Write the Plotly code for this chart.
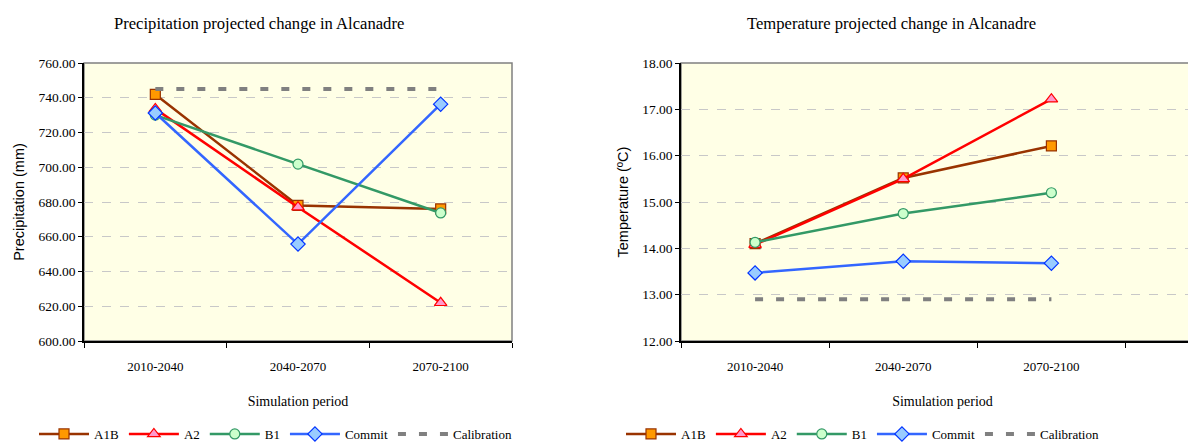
import plotly.graph_objects as go

# Simulation periods (x categories)
periods = ['2010-2040', '2040-2070', '2070-2100']

# Precipitation (mm)
precip_a1b = [741.9, 678.0, 676.0]
precip_a2 = [733.6, 677.0, 622.0]
precip_b1 = [730.0, 701.8, 673.7]
precip_commit = [731.2, 655.8, 736.3]
precip_calib = [745.0, 745.0, 745.0]

# Temperature (ºC)
temp_a1b = [14.10, 15.52, 16.21]
temp_a2 = [14.08, 15.50, 17.22]
temp_b1 = [14.13, 14.75, 15.20]
temp_commit = [13.47, 13.72, 13.68]
temp_calib = [12.90, 12.90, 12.90]

SERIF = 'Liberation Serif, Times New Roman, serif'
SANS = 'Liberation Sans, Arial, sans-serif'

styles = {
    'A1B': dict(line=dict(color='#993300', width=2.5),
                marker=dict(symbol='square', size=10, color='#FF9900',
                            line=dict(color='#993300', width=1.2))),
    'A2': dict(line=dict(color='#FF0000', width=2.5),
               marker=dict(symbol='triangle-up', size=11, color='#FF99CC',
                           line=dict(color='#FF0000', width=1.2))),
    'B1': dict(line=dict(color='#339966', width=2.5),
               marker=dict(symbol='circle', size=10, color='#CCFFCC',
                           line=dict(color='#339966', width=1.2))),
    'Commit': dict(line=dict(color='#3366FF', width=2.5),
                   marker=dict(symbol='diamond', size=11, color='#99CCFF',
                               line=dict(color='#0033FF', width=1.2))),
}

fig = go.Figure()


def add_panel(series, calib, xa, ya, legend):
    for name, vals in series:
        st = styles[name]
        fig.add_trace(go.Scatter(
            x=periods, y=vals, name=name, mode='lines+markers',
            line=st['line'], marker=st['marker'],
            xaxis=xa, yaxis=ya, legend=legend,
        ))
    fig.add_trace(go.Scatter(
        x=periods, y=calib, name='Calibration', mode='lines',
        line=dict(color='#808080', width=4, dash='8px,13px'),
        xaxis=xa, yaxis=ya, legend=legend,
    ))


add_panel([('A1B', precip_a1b), ('A2', precip_a2), ('B1', precip_b1),
           ('Commit', precip_commit)], precip_calib, 'x', 'y', 'legend')
add_panel([('A1B', temp_a1b), ('A2', temp_a2), ('B1', temp_b1),
           ('Commit', temp_commit)], temp_calib, 'x2', 'y2', 'legend2')

W, H = 1196, 443
OFF = 8  # page body margin


def xp(px):
    return (px - OFF) / W


def yp(py):
    return 1 - (py - OFF) / H


ydom = [yp(341), yp(63)]

xcommon = dict(
    type='category', tickson='boundaries', ticks='outside', ticklen=5,
    tickcolor='black', showline=True, linecolor='black', linewidth=1.5,
    showgrid=False, tickfont=dict(family=SERIF, size=13, color='black'),
    title=dict(text='Simulation period', font=dict(family=SERIF, size=14, color='black'),
               standoff=23),
    ticklabelstandoff=13, fixedrange=True, automargin=False,
)
ycommon = dict(
    ticks='outside', ticklen=4, tickcolor='black', showline=True,
    linecolor='black', linewidth=1.5, showgrid=True, gridcolor='#C8C8C8',
    griddash='dash', gridwidth=1, tickformat='.2f', zeroline=False,
    tickfont=dict(family=SERIF, size=13.5, color='black'), fixedrange=True,
    automargin=False,
)

fig.update_layout(
    width=W, height=H,
    margin=dict(l=0, r=0, t=0, b=0, autoexpand=False),
    paper_bgcolor='white', plot_bgcolor='#FFFFE6',
    showlegend=True,
    xaxis=dict(xcommon, domain=[xp(84), xp(512)], anchor='y', range=[-0.5, 2.5]),
    yaxis=dict(ycommon, domain=ydom, anchor='x', range=[600, 760], dtick=20,
               title=dict(text='Precipitation (mm)', font=dict(family=SANS, size=14.5, color='black'),
                          standoff=10)),
    xaxis2=dict(xcommon, domain=[xp(681), 1.0], anchor='y2', range=[-0.5, 3.03]),
    yaxis2=dict(ycommon, domain=ydom, anchor='x2', range=[12, 18], dtick=1,
                title=dict(text='Temperature (ºC)', font=dict(family=SANS, size=14.5, color='black'),
                           standoff=10)),
    legend=dict(orientation='h', x=xp(34), y=yp(434), xanchor='left', yanchor='middle',
                font=dict(family=SERIF, size=13, color='black'), itemwidth=50,
                bgcolor='rgba(0,0,0,0)', tracegroupgap=0),
    legend2=dict(orientation='h', x=xp(621), y=yp(434), xanchor='left', yanchor='middle',
                 font=dict(family=SERIF, size=13, color='black'), itemwidth=50,
                 bgcolor='rgba(0,0,0,0)', tracegroupgap=0),
    annotations=[
        dict(text='Precipitation projected change in Alcanadre', x=xp(259), y=yp(23),
             xref='paper', yref='paper', xanchor='center', yanchor='middle', showarrow=False,
             font=dict(family=SERIF, size=16.6, color='black')),
        dict(text='Temperature projected change in Alcanadre', x=xp(892), y=yp(23),
             xref='paper', yref='paper', xanchor='center', yanchor='middle', showarrow=False,
             font=dict(family=SERIF, size=16.6, color='black')),
    ],
    shapes=[
        dict(type='rect', xref='x domain', yref='y domain', x0=0, x1=1, y0=0, y1=1,
             line=dict(color='#808080', width=1.5), layer='below'),
        dict(type='rect', xref='x2 domain', yref='y2 domain', x0=0, x1=1.2, y0=0, y1=1,
             line=dict(color='#808080', width=1.5), layer='below'),
    ],
)

fig.write_html('out.html')
